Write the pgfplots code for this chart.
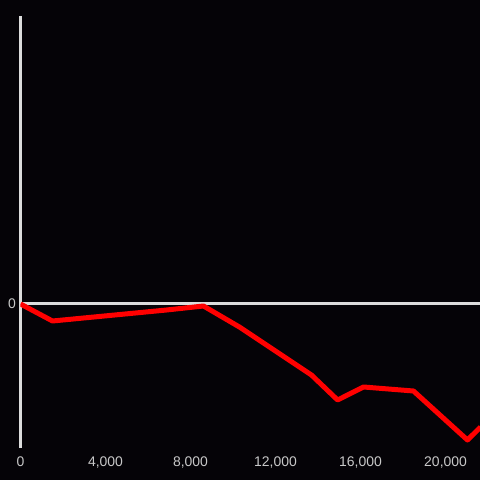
\documentclass[border=0pt]{standalone}
\usepackage{pgfplots}
\pgfplotsset{compat=1.18}
\usepackage{fontspec}
\setmainfont{Liberation Sans}
\definecolor{bg}{HTML}{050307}
\definecolor{axc}{HTML}{DCDCDC}
\definecolor{tkc}{HTML}{C8C8C8}
\definecolor{linec}{HTML}{FF0000}
\begin{document}
\begin{tikzpicture}
\fill[bg] (-20.5bp,-32bp) rectangle (459.5bp,448bp);
\begin{axis}[
  at={(0,0)}, anchor=south west,
  scale only axis, width=459.5bp, height=432bp,
  xmin=0, xmax=21620, ymin=-144, ymax=288,
  axis lines=left,
  x axis line style={draw=none},
  y axis line style={-, draw=axc, line width=3bp},
  xtick={0,4000,8000,12000,16000,20000},
  scaled x ticks=false,
  xticklabel={\pgfmathprintnumber[fixed,precision=0,1000 sep={,}]{\tick}},
  ytick={0},
  major tick length=0pt,
  ymajorgrids, grid style={draw=axc, line width=3bp},
  /pgf/number format/.cd, 1000 sep={,}, assume math mode=true,
  /pgfplots/.cd,
  tick label style={font=\fontsize{14}{16}\selectfont, text=tkc},
  xticklabel style={anchor=north, yshift=-5bp},
  yticklabel style={anchor=east, xshift=-1bp},
  clip=true,
]
\addplot[linec, line width=5bp, line join=round] coordinates {
(0,0) (1506,-17) (6870,-6) (8610,-2) (10300,-23) (13690,-71) (14920,-96)
(16140,-83) (18490,-87) (21030,-136) (21650,-123)
};
\end{axis}
\pgfresetboundingbox
\path (-20.5bp,-32bp) rectangle (459.5bp,448bp);
\end{tikzpicture}
\end{document}
